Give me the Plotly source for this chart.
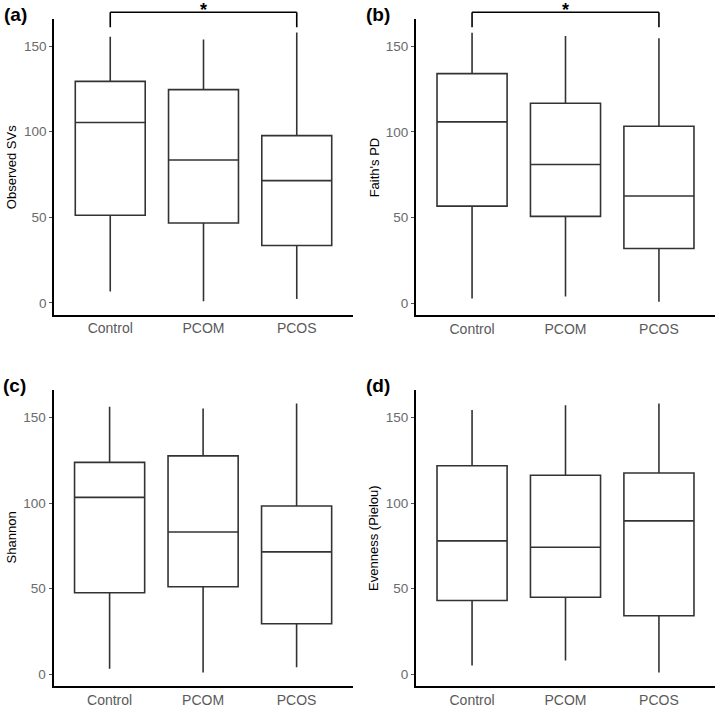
# Alpha diversity boxplots (a)-(d): Control vs PCOM vs PCOS
import plotly.graph_objects as go

W, H = 716, 708

groups = ["Control", "PCOM", "PCOS"]
panel_tags = ["(a)", "(b)", "(c)", "(d)"]
y_titles = ["Observed SVs", "Faith's PD", "Shannon", "Evenness (Pielou)"]

# box statistics per panel: one value per group
lower = [
    [6.7, 1.0, 2.3],
    [2.9, 4.0, 0.9],
    [3.3, 1.2, 4.2],
    [5.2, 8.1, 1.2],
]
q1 = [
    [51.2, 46.7, 33.5],
    [56.7, 50.7, 32.0],
    [47.7, 51.2, 29.6],
    [43.1, 45.0, 34.2],
]
median = [
    [105.4, 83.5, 71.4],
    [105.8, 80.9, 62.6],
    [103.3, 83.1, 71.5],
    [77.9, 74.2, 89.6],
]
q3 = [
    [129.4, 124.6, 97.7],
    [133.9, 116.6, 103.2],
    [123.7, 127.5, 98.3],
    [121.7, 116.2, 117.5],
]
upper = [
    [155.4, 153.8, 157.9],
    [157.7, 155.8, 154.5],
    [156.2, 155.2, 158.1],
    [154.2, 157.1, 158.1],
]

# significance brackets: (panel index, left group, right group, label)
brackets = [(0, "Control", "PCOS", "*"), (1, "Control", "PCOS", "*")]

y_ticks = [0, 50, 100, 150]

# panel boxes in pixels: (left, top, right, bottom)
panels = [
    (54.3, 19.3, 352.7, 317.3),
    (416.0, 19.5, 715.0, 318.0),
    (53.5, 393.3, 352.7, 691.7),
    (416.0, 393.3, 715.0, 691.7),
]

FONT = "Liberation Sans, Arial, sans-serif"

fig = go.Figure()

for i in range(4):
    n = i + 1
    xa = "x" if n == 1 else f"x{n}"
    ya = "y" if n == 1 else f"y{n}"
    fig.add_trace(go.Box(
        x=groups, q1=q1[i], median=median[i], q3=q3[i],
        lowerfence=lower[i], upperfence=upper[i],
        width=0.75,
        fillcolor="white", line=dict(color="#333333", width=1.6),
        whiskerwidth=0, boxpoints=False, showlegend=False,
        hoverinfo="skip", xaxis=xa, yaxis=ya,
    ))

    l, t, r, b = panels[i]
    lo = min(lower[i]); hi = max(upper[i])
    pad = (hi - lo) * 0.05
    xkey = "xaxis" if n == 1 else f"xaxis{n}"
    ykey = "yaxis" if n == 1 else f"yaxis{n}"
    fig.update_layout({
        xkey: dict(
            domain=[l / W, r / W], anchor=ya, range=[-0.6, 2.6],
            showline=True, linecolor="black", linewidth=2,
            ticks="", ticklen=0,
            tickfont=dict(family=FONT, size=14, color="#5a5a5a"),
            showgrid=False, zeroline=False, fixedrange=True,
        ),
        ykey: dict(
            domain=[1 - b / H, 1 - t / H], anchor=xa, range=[lo - pad, hi + pad],
            tickvals=y_ticks, ticktext=[str(v) for v in y_ticks],
            showline=True, linecolor="black", linewidth=2,
            ticks="outside", ticklen=3, tickcolor="#555555", tickwidth=1,
            tickfont=dict(family=FONT, size=13.5, color="#6a6a6a"),
            showgrid=False, zeroline=False, fixedrange=True,
        ),
    })

    fig.add_annotation(
        x=(l - 54.3 + 2) / W, y=1 - (t - 4.5) / H, xref="paper", yref="paper",
        text=f"<b>{panel_tags[i]}</b>", showarrow=False,
        xanchor="left", yanchor="middle",
        font=dict(family=FONT, size=19, color="black"),
    )
    fig.add_annotation(
        x=(l - 42) / W, y=1 - ((t + b) / 2) / H, xref="paper", yref="paper",
        text=y_titles[i], textangle=-90, showarrow=False,
        xanchor="center", yanchor="middle",
        font=dict(family=FONT, size=13, color="black"),
    )

for pi, g1, g2, lab in brackets:
    n = pi + 1
    xa = "x" if n == 1 else f"x{n}"
    top_px = 12.3
    leg_px = 27.5
    for gx in (g1, g2):
        fig.add_shape(type="line", xref=xa, yref="paper",
                      x0=gx, x1=gx, y0=1 - top_px / H, y1=1 - leg_px / H,
                      line=dict(color="black", width=1.6))
    fig.add_shape(type="line", xref=xa, yref="paper",
                  x0=g1, x1=g2, y0=1 - top_px / H, y1=1 - top_px / H,
                  line=dict(color="black", width=1.6))
    fig.add_annotation(
        x=groups.index(g1) / 2 + groups.index(g2) / 2, xref=xa,
        y=1 + 2 / H, yref="paper",
        text=f"<b>{lab}</b>", showarrow=False, yanchor="top",
        font=dict(family=FONT, size=18, color="black"),
    )

fig.update_layout(
    width=W, height=H, margin=dict(l=0, r=0, t=0, b=0),
    paper_bgcolor="white", plot_bgcolor="white",
    showlegend=False,
)

fig.write_html("out.html", config={"displayModeBar": False},
               post_script="document.body.style.margin='0';")
